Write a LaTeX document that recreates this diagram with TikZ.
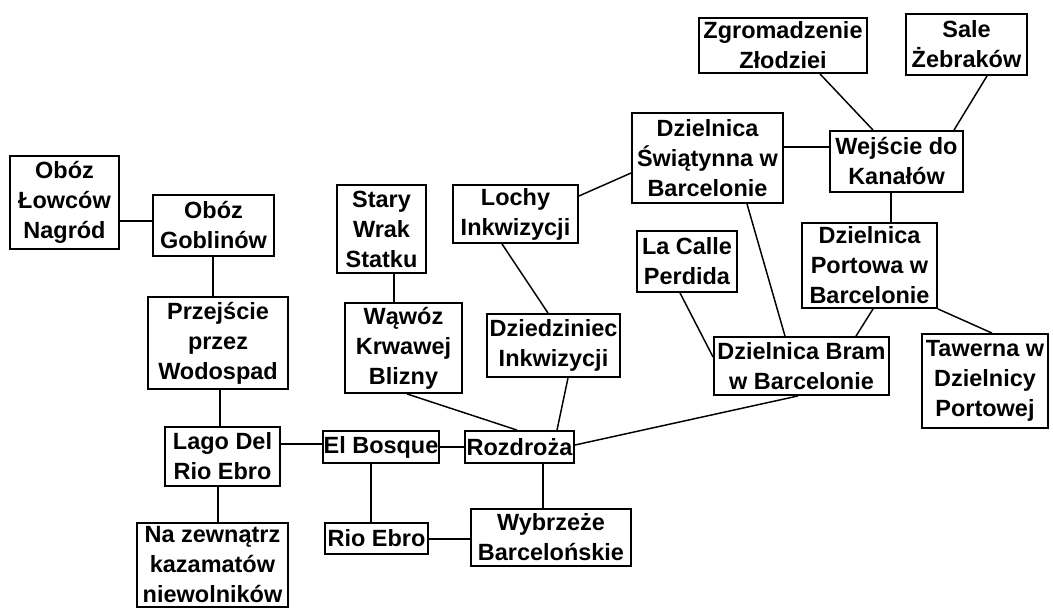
\documentclass[tikz,border=0pt]{standalone}
\usepackage{fontspec}
\setmainfont{Liberation Sans}
\usetikzlibrary{calc}
\tikzset{
  place/.style 2 args={draw, line width=1.4pt, inner sep=0pt, align=center,
    minimum width=#1*0.75pt, minimum height=#2*0.75pt,
    font=\bfseries\fontsize{17.6}{22.5}\selectfont},
  link/.style={line width=1.1pt}
}
\begin{document}
\begin{tikzpicture}[x=0.75pt,y=-0.75pt]
\useasboundingbox (0,0) rectangle (1053,608);
\node[place={109}{93}] (lowcy) at (64.5,202.5) {Obóz\\Łowców\\Nagród};
\node[place={121}{61}] (gobl) at (213.5,225.5) {Obóz\\Goblinów};
\node[place={140}{92}] (przej) at (218,343) {Przejście\\przez\\Wodospad};
\node[place={115}{59}] (lago) at (222.5,456.5) {Lago Del\\Rio Ebro};
\node[place={151}{84}] (nazew) at (212.5,565) {Na zewnątrz\\kazamatów\\niewolników};
\node[place={116}{32}] (bosque) at (381,447) {El Bosque};
\node[place={103}{31}] (rioebro) at (376.5,538.5) {Rio Ebro};
\node[place={89}{88}] (stary) at (381.5,229) {Stary\\Wrak\\Statku};
\node[place={117}{90}] (wawoz) at (403.5,348) {Wąwóz\\Krwawej\\Blizny};
\node[place={125}{58}] (lochy) at (515.5,214) {Lochy\\Inkwizycji};
\node[place={133}{63}] (dziedz) at (553.5,345.5) {Dziedziniec\\Inkwizycji};
\node[place={109}{32}] (rozdr) at (519.5,447) {Rozdroża};
\node[place={160}{57}] (wybrz) at (551,537.5) {Wybrzeże\\Barcelońskie};
\node[place={151}{90}] (swiat) at (707.5,158) {Dzielnica\\Świątynna w\\Barcelonie};
\node[place={168}{55}] (zgrom) at (783,45.5) {Zgromadzenie\\Złodziei};
\node[place={121}{61}] (sale) at (966.5,44.5) {Sale\\Żebraków};
\node[place={133}{61}] (wejscie) at (896.5,161.5) {Wejście do\\Kanałów};
\node[place={100}{61}] (lacalle) at (687,261.5) {La Calle\\Perdida};
\node[place={135}{85}] (portowa) at (869.5,265.5) {Dzielnica\\Portowa w\\Barcelonie};
\node[place={175}{58}] (bram) at (801.5,366) {Dzielnica Bram\\w Barcelonie};
\node[place={126}{94}] (tawerna) at (985,381) {Tawerna w\\Dzielnicy\\Portowej};

\draw[link] ($(lowcy.east)+(0,18.5)$) -- ($(gobl.west)+(0,-4.5)$);
\draw[link] ($(gobl.south)+(-0.5,0)$) -- ($(przej.north)+(-5,0)$);
\draw[link] ($(przej.south)+(2,0)$) -- ($(lago.north)+(-2.5,0)$);
\draw[link] ($(lago.south)+(-4.5,0)$) -- ($(nazew.north)+(5.5,0)$);
\draw[link] ($(lago.east)+(0,-12.5)$) -- ($(bosque.west)+(0,-3)$);
\draw[link] ($(bosque.south)+(-10,0)$) -- ($(rioebro.north)+(-5.5,0)$);
\draw[link] (bosque.east) -- (rozdr.west);
\draw[link] ($(rioebro.east)+(0,0.5)$) -- ($(wybrz.west)+(0,1.5)$);
\draw[link] ($(rozdr.south)+(23.5,0)$) -- ($(wybrz.north)+(-8,0)$);
\draw[link] ($(stary.south)+(12.5,0)$) -- ($(wawoz.north)+(-9.5,0)$);
\draw[link] ($(wawoz.south)+(3.5,0)$) -- ($(rozdr.north)+(-2.5,0)$);
\draw[link] ($(lochy.south)+(-13.5,0)$) -- ($(dziedz.north)+(-5.5,0)$);
\draw[link] ($(dziedz.south)+(14.5,0)$) -- ($(rozdr.north)+(37.5,0)$);
\draw[link] ($(rozdr.east)+(0,-2)$) -- ($(bram.south)+(-3.5,0)$);
\draw[link] ($(lochy.east)+(0,-18)$) -- ($(swiat.west)+(0,15)$);
\draw[link] ($(swiat.east)+(0,-11)$) -- ($(wejscie.west)+(0,-14.5)$);
\draw[link] ($(swiat.south)+(39.5,0)$) -- ($(bram.north)+(-16.5,0)$);
\draw[link] ($(zgrom.south)+(37,0)$) -- ($(wejscie.north)+(-23.5,0)$);
\draw[link] ($(sale.south)+(20.5,0)$) -- ($(wejscie.north)+(57.5,0)$);
\draw[link] ($(wejscie.south)+(-5.5,0)$) -- ($(portowa.north)+(21.5,0)$);
\draw[link] ($(lacalle.south)+(-7,0)$) -- ($(bram.west)+(0,-9)$);
\draw[link] ($(portowa.south)+(3.5,0)$) -- ($(bram.north)+(54.5,0)$);
\draw[link] (portowa.south east) -- ($(tawerna.north)+(7,0)$);
\end{tikzpicture}
\end{document}
